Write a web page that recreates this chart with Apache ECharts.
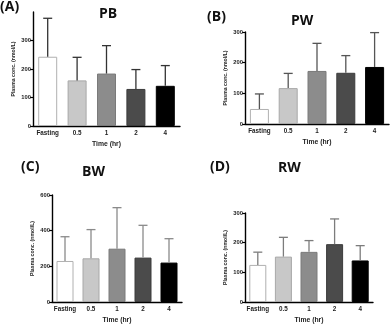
<!DOCTYPE html>
<html>
<head>
<meta charset="UTF-8">
<script src="https://cdn.jsdelivr.net/npm/echarts@6/dist/echarts.min.js"></script>
<style>
  html, body { margin: 0; background: #fff; }
  #main { width: 392px; height: 327px; }
</style>
</head>
<body>
<div id="main"></div>
<script>
// data (mean and upper end of error bar)
var categories = ['Fasting', '0.5', '1', '2', '4'];
var pbMean = [243, 160, 184, 130, 141];
var pbTop  = [378, 241, 282, 198, 212];
var pwMean = [49, 117, 173, 167, 186];
var pwTop  = [98, 165, 263, 223, 298];
var bwMean = [230, 245, 299, 249, 221];
var bwTop  = [366, 406, 529, 430, 355];
var rwMean = [125, 153, 169, 195, 140];
var rwTop  = [168, 218, 207, 280, 190];

var barColors  = ['#ffffff', '#c8c8c8', '#8c8c8c', '#4b4b4b', '#000000'];
var barBorders = ['#b0b0b0', '#a8a8a8', '#7a7a7a', '#3c3c3c', '#000000'];

var panels = [
  {mean: pbMean, top: pbTop, max: 400, step: 100, hideMax: true,
   grid: {left: 33, top: 12, width: 147, height: 114}, barW: 19, err: '#333'},
  {mean: pwMean, top: pwTop, max: 300, step: 100, hideMax: false,
   grid: {left: 245, top: 32, width: 144, height: 92}, barW: 19, err: '#555'},
  {mean: bwMean, top: bwTop, max: 600, step: 200, hideMax: false,
   grid: {left: 52, top: 195, width: 130, height: 107}, barW: 17, err: '#8a8a8a'},
  {mean: rwMean, top: rwTop, max: 300, step: 100, hideMax: false,
   grid: {left: 245, top: 213, width: 128, height: 89}, barW: 17, err: '#7c7c7c'}
];

var tickFont = {fontFamily: 'Liberation Sans', fontWeight: 'bold', color: '#222'};

var grids = [], xAxes = [], yAxes = [], series = [];
panels.forEach(function (p, i) {
  grids.push(p.grid);
  xAxes.push({
    type: 'category', gridIndex: i, data: categories,
    name: 'Time (hr)', nameLocation: 'middle', nameGap: 15,
    nameTextStyle: {fontFamily: 'Liberation Sans', fontWeight: 'bold', fontSize: 6.8, color: '#222'},
    axisLine: {lineStyle: {color: '#000', width: 1.4}},
    axisTick: {alignWithLabel: true, length: 3, lineStyle: {color: '#000', width: 1.2}},
    axisLabel: Object.assign({fontSize: 6.3, margin: 4, interval: 0, hideOverlap: false}, tickFont)
  });
  yAxes.push({
    type: 'value', gridIndex: i, min: 0, max: p.max, interval: p.step,
    name: 'Plasma conc. (nmol/L)', nameLocation: 'middle', nameGap: 17,
    nameTextStyle: {fontFamily: 'Liberation Sans', fontWeight: 'bold', fontSize: 5.2, color: '#222'},
    axisLine: {show: true, lineStyle: {color: '#000', width: 1.4}},
    axisTick: {show: true, length: 3, lineStyle: {color: '#000', width: 1.2}},
    axisLabel: Object.assign({fontSize: 5.8, margin: 2, showMaxLabel: !p.hideMax}, tickFont),
    splitLine: {show: false}
  });
  series.push({
    type: 'bar', xAxisIndex: i, yAxisIndex: i, barWidth: p.barW,
    data: p.mean.map(function (v, k) {
      return {value: v, itemStyle: {color: barColors[k], borderColor: barBorders[k], borderWidth: 1}};
    }),
    z: 2
  });
  series.push({
    type: 'custom', xAxisIndex: i, yAxisIndex: i, z: 3,
    data: p.mean.map(function (v, k) { return [k, v, p.top[k]]; }),
    renderItem: function (params, api) {
      var base = api.coord([api.value(0), api.value(1)]);
      var top = api.coord([api.value(0), api.value(2)]);
      var st = {stroke: p.err, lineWidth: 1.3};
      return {
        type: 'group',
        children: [
          {type: 'line', shape: {x1: base[0], y1: base[1], x2: top[0], y2: top[1]}, style: st},
          {type: 'line', shape: {x1: top[0] - 4.5, y1: top[1], x2: top[0] + 4.5, y2: top[1]}, style: st}
        ]
      };
    }
  });
});

var labelStyle = {fontFamily: 'Open Sans', fontWeight: 'bold', fontSize: 14, color: '#111'};
var titles = [
  {text: '(A)', left: 0, top: 0},
  {text: 'PB', left: 99, top: 7},
  {text: '(B)', left: 207, top: 10},
  {text: 'PW', left: 291, top: 14},
  {text: '(C)', left: 21, top: 160},
  {text: 'BW', left: 82, top: 165},
  {text: '(D)', left: 210, top: 160},
  {text: 'RW', left: 278, top: 161}
].map(function (t) {
  t.padding = 0;
  t.textStyle = labelStyle;
  return t;
});

var myChart = echarts.init(document.getElementById('main'));
myChart.setOption({
  animation: false,
  title: titles,
  grid: grids,
  xAxis: xAxes,
  yAxis: yAxes,
  series: series
});
</script>
</body>
</html>
